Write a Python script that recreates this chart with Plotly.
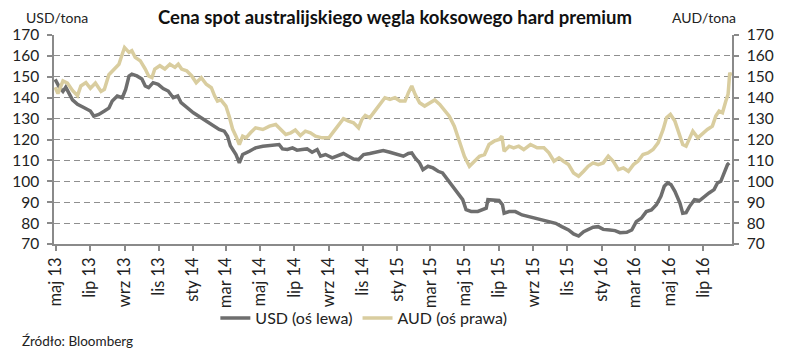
import plotly.graph_objects as go

usd_dates = ["2013-04-30","2013-05-08","2013-05-14","2013-05-19","2013-05-31","2013-06-09","2013-06-21","2013-07-02","2013-07-08","2013-07-17","2013-07-27","2013-08-04","2013-08-10","2013-08-19","2013-08-28","2013-09-03","2013-09-09","2013-09-14","2013-09-23","2013-10-02","2013-10-08","2013-10-14","2013-10-22","2013-10-31","2013-11-09","2013-11-18","2013-11-27","2013-12-05","2013-12-11","2013-12-21","2014-01-02","2014-01-13","2014-01-25","2014-02-06","2014-02-17","2014-02-26","2014-03-04","2014-03-09","2014-03-13","2014-03-19","2014-03-25","2014-03-31","2014-04-12","2014-04-23","2014-05-06","2014-05-18","2014-05-29","2014-06-04","2014-06-10","2014-06-19","2014-06-28","2014-07-06","2014-07-15","2014-07-24","2014-08-02","2014-08-11","2014-08-17","2014-08-26","2014-09-07","2014-09-19","2014-09-27","2014-10-06","2014-10-15","2014-10-24","2014-11-02","2014-11-13","2014-11-25","2014-12-07","2014-12-19","2014-12-31","2015-01-12","2015-01-21","2015-01-27","2015-02-02","2015-02-10","2015-02-16","2015-02-25","2015-03-06","2015-03-15","2015-03-23","2015-04-01","2015-04-10","2015-04-19","2015-04-28","2015-05-04","2015-05-13","2015-05-25","2015-06-03","2015-06-09","2015-06-12","2015-06-20","2015-07-02","2015-07-08","2015-07-11","2015-07-20","2015-07-31","2015-08-12","2015-08-24","2015-09-05","2015-09-17","2015-09-29","2015-10-11","2015-10-22","2015-11-03","2015-11-12","2015-11-21","2015-11-30","2015-12-08","2015-12-17","2015-12-26","2016-01-04","2016-01-16","2016-01-25","2016-02-03","2016-02-15","2016-02-24","2016-03-03","2016-03-12","2016-03-21","2016-03-30","2016-04-08","2016-04-16","2016-04-22","2016-04-28","2016-05-04","2016-05-11","2016-05-20","2016-05-25","2016-05-31","2016-06-06","2016-06-15","2016-06-24","2016-07-03","2016-07-11","2016-07-20","2016-07-26","2016-08-01","2016-08-07","2016-08-13","2016-08-16"]
usd_values = [148.8,144.8,143,145,139,136.8,135.2,133.6,131.2,132,133.6,135,138.4,140.8,140,144,150.4,151.3,150.4,149,145.6,144.8,147.2,146.4,144.4,143.2,140,140.8,137.6,135.2,132.8,130.9,128.8,126.4,124.8,124,121.6,117,115.2,112.8,108.8,112.8,114.4,116,116.8,117.1,117.6,117.6,115.5,115.2,116,114.9,115.2,115.5,113.9,115.2,112,112.8,111.2,112.3,113.3,112,110.7,110.4,112.8,113.3,113.9,114.7,113.9,112.8,112,113.3,113.6,111.2,108.8,105.6,107.2,106.4,104.8,104,100.8,97.6,94.4,91.2,86.4,85.6,85.6,86.4,87.1,91.2,91.2,90.8,88.8,84.7,85.5,85.5,83.9,83.1,81.9,81.2,80.7,79.9,78.3,76.7,74.8,73.8,75.9,77,78,78.3,77,76.7,76.4,75.4,75.6,76.7,80.7,82.3,85.5,86.3,88.8,92.8,97.6,99.2,98.4,95.2,89.6,84.7,85,87.9,91.2,90.8,92.8,94.4,96,99.2,100,104,108,108.8]

aud_dates = ["2013-04-30","2013-05-05","2013-05-14","2013-05-22","2013-05-31","2013-06-09","2013-06-15","2013-06-24","2013-07-02","2013-07-11","2013-07-21","2013-07-27","2013-08-04","2013-08-13","2013-08-22","2013-08-28","2013-09-01","2013-09-09","2013-09-14","2013-09-20","2013-09-29","2013-10-08","2013-10-14","2013-10-20","2013-10-25","2013-11-03","2013-11-12","2013-11-21","2013-11-30","2013-12-06","2013-12-12","2013-12-21","2013-12-30","2014-01-07","2014-01-16","2014-01-25","2014-02-03","2014-02-09","2014-02-14","2014-02-20","2014-03-01","2014-03-07","2014-03-13","2014-03-19","2014-03-25","2014-03-31","2014-04-06","2014-04-14","2014-04-23","2014-05-06","2014-05-18","2014-05-29","2014-06-07","2014-06-16","2014-06-25","2014-07-03","2014-07-12","2014-07-21","2014-07-30","2014-08-08","2014-08-20","2014-09-01","2014-09-10","2014-09-19","2014-09-27","2014-10-06","2014-10-15","2014-10-24","2014-10-30","2014-11-05","2014-11-13","2014-11-22","2014-12-01","2014-12-10","2014-12-19","2014-12-28","2015-01-06","2015-01-15","2015-01-21","2015-01-27","2015-02-02","2015-02-10","2015-02-19","2015-02-28","2015-03-09","2015-03-18","2015-03-26","2015-04-04","2015-04-13","2015-04-19","2015-04-26","2015-05-01","2015-05-10","2015-05-19","2015-05-28","2015-06-06","2015-06-14","2015-06-23","2015-07-02","2015-07-07","2015-07-11","2015-07-20","2015-07-28","2015-08-06","2015-08-15","2015-08-27","2015-09-08","2015-09-20","2015-09-29","2015-10-08","2015-10-17","2015-10-25","2015-11-03","2015-11-12","2015-11-21","2015-11-30","2015-12-08","2015-12-17","2015-12-26","2016-01-04","2016-01-13","2016-01-22","2016-01-31","2016-02-09","2016-02-18","2016-02-27","2016-03-06","2016-03-15","2016-03-24","2016-04-02","2016-04-11","2016-04-20","2016-04-26","2016-05-03","2016-05-11","2016-05-20","2016-05-25","2016-05-31","2016-06-06","2016-06-12","2016-06-21","2016-06-30","2016-07-08","2016-07-17","2016-07-23","2016-07-29","2016-08-04","2016-08-10","2016-08-14","2016-08-17","2016-08-19"]
aud_values = [145,142,148,147,143.5,141,145.6,147.2,144.5,147,143,144,151,153.5,156,160.9,164,161.7,162.5,159.3,157.7,153.7,150.4,149.6,153.7,155.3,153.7,156,154.5,156,153.7,152.9,150.4,147.2,149.6,146.4,144.8,140.8,138.4,139,136,131,125,121.6,117.6,121.6,120.8,123.2,125.6,124.8,126.4,127.2,124.8,122.4,123.2,124.5,121.9,124,123.2,121.6,120.8,120.8,124,127.2,130,128.8,128,125.6,129.6,131.5,130.4,133.6,136.8,140,139.2,140,138.4,138.4,142.4,145.6,141.6,137.6,136,137.6,138.9,136.8,134.4,131.2,126.4,121.6,116.8,112,107.2,109.6,112,112.8,117.6,119.2,120,121.6,114.4,116.8,116,116.8,115.2,117.6,116,116,113.6,109.6,111.2,109.6,108,104,102.4,104.8,107.2,108.8,108,108.8,112,109.6,105.6,106.4,104.8,108,109.6,112.8,113.6,115.2,118.4,124.8,130.4,132,128.8,121.6,117.6,116.8,120,124,120.8,123.2,124.8,126.4,131.2,133.6,132.8,138.4,141.6,152,150.4]

tick_dates = ["2013-05-01","2013-07-01","2013-09-01","2013-11-01","2014-01-01","2014-03-01","2014-05-01","2014-07-01","2014-09-01","2014-11-01","2015-01-01","2015-03-01","2015-05-01","2015-07-01","2015-09-01","2015-11-01","2016-01-01","2016-03-01","2016-05-01","2016-07-01"]
tick_labels = ["maj 13","lip 13","wrz 13","lis 13","sty 14","mar 14","maj 14","lip 14","wrz 14","lis 14","sty 15","mar 15","maj 15","lip 15","wrz 15","lis 15","sty 16","mar 16","maj 16","lip 16"]
y_ticks = [70, 80, 90, 100, 110, 120, 130, 140, 150, 160, 170]

title_text = "Cena spot australijskiego węgla koksowego hard premium"
usd_name = "USD (oś lewa)"
aud_name = "AUD (oś prawa)"
left_unit = "USD/tona"
right_unit = "AUD/tona"
source_text = "Źródło: Bloomberg"

USD_COLOR = "#6e6e6e"
AUD_COLOR = "#d9cd9f"
AXIS_COLOR = "#8a8a8a"
FONT = "Lato"

fig = go.Figure()
fig.add_trace(go.Scatter(x=usd_dates, y=usd_values, name=usd_name, mode="lines",
                         line=dict(color=USD_COLOR, width=3.5), yaxis="y"))
fig.add_trace(go.Scatter(x=aud_dates, y=aud_values, name=aud_name, mode="lines",
                         line=dict(color=AUD_COLOR, width=3.5), yaxis="y2"))

y_font = dict(family=FONT, size=15.5, color="#222222")
x_font = dict(family=FONT, size=16.5, color="#222222")

fig.update_layout(
    width=786, height=354,
    margin=dict(l=52, r=52, t=35, b=110),
    paper_bgcolor="white", plot_bgcolor="white",
    font=dict(family=FONT, size=14, color="#222222"),
    showlegend=True,
    legend=dict(orientation="h", x=0.238, xanchor="left", y=-0.355, yanchor="middle",
                font=dict(family=FONT, size=16, color="#222222"),
                bgcolor="rgba(0,0,0,0)", itemwidth=30, tracegroupgap=0),
    xaxis=dict(type="date", range=["2013-04-28", "2016-08-21"],
               tickmode="array", tickvals=tick_dates, ticktext=tick_labels,
               tickangle=-90, tickfont=x_font,
               showgrid=False, zeroline=False,
               showline=True, linecolor=AXIS_COLOR, linewidth=1.5,
               ticks="outside", ticklen=5, tickcolor=AXIS_COLOR, tickwidth=1.5),
    yaxis=dict(range=[70, 170], tickmode="array", tickvals=y_ticks,
               tickfont=y_font, showgrid=True, gridcolor="#8f8f8f", gridwidth=1.3,
               griddash="6px,4px", zeroline=False,
               showline=True, linecolor=AXIS_COLOR, linewidth=1.5,
               ticks="outside", ticklen=5, tickcolor=AXIS_COLOR, tickwidth=1.5,
               ticklabelstandoff=5),
    yaxis2=dict(range=[70, 170], tickmode="array", tickvals=y_ticks,
                tickfont=y_font, overlaying="y", side="right",
                showgrid=False, zeroline=False,
                showline=True, linecolor=AXIS_COLOR, linewidth=1.5,
                ticks="outside", ticklen=5, tickcolor=AXIS_COLOR, tickwidth=1.5,
                ticklabelstandoff=5),
    annotations=[
        dict(text="<b>" + title_text + "</b>", xref="paper", yref="paper",
             x=0.503, y=1.086, xanchor="center", yanchor="middle", showarrow=False,
             font=dict(family=FONT, size=18.5, color="#111111")),
        dict(text=left_unit, xref="paper", yref="paper", x=0.004, y=1.086,
             xanchor="center", yanchor="middle", showarrow=False,
             font=dict(family=FONT, size=14, color="#222222")),
        dict(text=right_unit, xref="paper", yref="paper", x=0.959, y=1.086,
             xanchor="center", yanchor="middle", showarrow=False,
             font=dict(family=FONT, size=14, color="#222222")),
        dict(text=source_text, xref="paper", yref="paper", x=-0.05, y=-0.464,
             xanchor="left", yanchor="middle", showarrow=False,
             font=dict(family=FONT, size=13.5, color="#222222")),
    ],
)

fig.write_html("out.html")
